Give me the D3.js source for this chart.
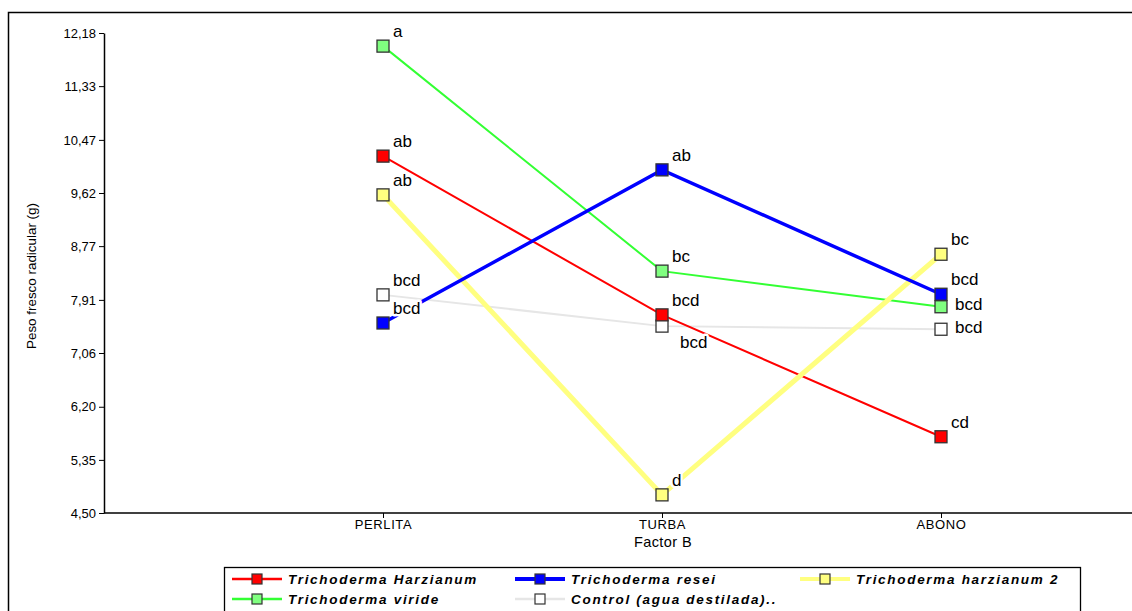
<!DOCTYPE html>
<html><head><meta charset="utf-8">
<script src="https://cdn.jsdelivr.net/npm/d3@7"></script>
<style>body{margin:0;background:#fff}svg{display:block;font-family:Arial,"Liberation Sans",sans-serif}</style>
</head><body><svg id="c" width="1132" height="611"></svg>
<script>
const categories = ["PERLITA","TURBA","ABONO"];
const yTicks = [4.50,5.35,6.20,7.06,7.91,8.77,9.62,10.47,11.33,12.18];
const seriesNames = ["Trichoderma Harzianum","Trichoderma resei","Trichoderma harzianum 2","Trichoderma viride","Control (agua destilada).."];
const harzianum = [10.21, 7.67, 5.72];
const resei = [7.54, 9.99, 8.00];
const harzianum2 = [9.59, 4.79, 8.64];
const viride = [11.97, 8.37, 7.80];
const control = [7.99, 7.49, 7.44];
const lettersHarzianum = ["ab","bcd","cd"];
const lettersResei = ["bcd","ab","bcd"];
const lettersHarzianum2 = ["ab","d","bc"];
const lettersViride = ["a","bc","bcd"];
const lettersControl = ["bcd","bcd","bcd"];

// styles / layout (not data)
const styles = [
  {line:"#ff0000", fill:"#ff0000", w:2},
  {line:"#0000ff", fill:"#0000ff", w:3.5},
  {line:"#ffff80", fill:"#ffff80", w:5},
  {line:"#33ff33", fill:"#80ff80", w:2},
  {line:"#e6e6e6", fill:"#ffffff", w:2}
];
// label offsets [dx,dy] per series per category
const labelOffsets = [
  [[10,-9],[10,-9],[10,-9]],
  [[10,-9],[10,-9],[10,-9]],
  [[10,-9],[10,-9],[10,-9]],
  [[10,-9],[10,-9],[14,3]],
  [[10,-9],[18,22],[14,4]]
];

const series = [harzianum,resei,harzianum2,viride,control];
const letters = [lettersHarzianum,lettersResei,lettersHarzianum2,lettersViride,lettersControl];

const svg = d3.select("#c");
svg.append("path").attr("d","M1140,12.5 H8.5 V620").attr("fill","none").attr("stroke","#000").attr("stroke-width",1.5);

const y = d3.scaleLinear().domain([4.5,12.18]).range([513,33]);
const x = d3.scalePoint().domain(categories).range([383,941]);
const xLeft = 104, xRight = 1132;

// y axis
const ya = svg.append("g").attr("transform",`translate(${xLeft},0)`)
  .call(d3.axisLeft(y).tickValues(yTicks).tickSize(5).tickSizeOuter(0)
    .tickFormat(d=>d3.format(".2f")(d).replace(".",",")));
ya.selectAll("text").attr("font-size",13).attr("fill","#000").attr("font-family","Arial, Liberation Sans, sans-serif");
ya.select(".domain").attr("stroke-width",1.5);

// x axis
const xa = svg.append("g").attr("transform",`translate(0,513)`)
  .call(d3.axisBottom(x).tickSize(5).tickSizeOuter(0));
xa.select(".domain").remove();
xa.selectAll("text").attr("font-size",13).attr("fill","#000").attr("dy","0.6em").attr("letter-spacing",0.6)
  .attr("font-family","Arial, Liberation Sans, sans-serif");
svg.append("line").attr("x1",xLeft).attr("x2",xRight).attr("y1",513).attr("y2",513).attr("stroke","#000").attr("stroke-width",1.5);

svg.append("text").attr("x",663).attr("y",547).attr("text-anchor","middle").attr("font-size",14.5).attr("letter-spacing",0.4).text("Factor B");
svg.append("text").attr("transform","translate(36,276) rotate(-90)").attr("text-anchor","middle")
  .attr("font-size",12).attr("textLength",146).attr("lengthAdjust","spacingAndGlyphs").text("Peso fresco radicular (g)");

const line = d3.line().x((d,i)=>x(categories[i])).y(d=>y(d));
const order = [4,3,0,2,1];
order.forEach(s=>{
  svg.append("path").attr("d",line(series[s])).attr("fill","none")
    .attr("stroke",styles[s].line).attr("stroke-width",styles[s].w);
});
const lg = svg.append("g");
series.forEach((vals,s)=>{
  vals.forEach((v,i)=>{
    const off = labelOffsets[s][i];
    lg.append("text").attr("x",x(categories[i])+off[0]).attr("y",y(v)+off[1])
      .attr("font-size",17).attr("fill","#000").attr("stroke","#fff").attr("stroke-width",5)
      .attr("paint-order","stroke").attr("stroke-linejoin","round").text(letters[s][i]);
  });
});
order.forEach(s=>{
  series[s].forEach((v,i)=>{
    svg.append("rect").attr("x",x(categories[i])-6).attr("y",y(v)-6).attr("width",12).attr("height",12)
      .attr("fill",styles[s].fill).attr("stroke","#333").attr("stroke-width",1.3);
  });
});

// legend
const leg = svg.append("g");
leg.append("rect").attr("x",224.5).attr("y",567.5).attr("width",856).attr("height",60)
  .attr("fill","#fff").attr("stroke","#000").attr("stroke-width",1.3);
const legPos = [[232,579],[515,579],[800,579],[232,599],[515,599]];
seriesNames.forEach((n,s)=>{
  const [lx,ly] = legPos[s];
  leg.append("line").attr("x1",lx).attr("x2",lx+50).attr("y1",ly).attr("y2",ly)
    .attr("stroke",styles[s].line).attr("stroke-width",Math.min(styles[s].w+0.5,4));
  leg.append("rect").attr("x",lx+20).attr("y",ly-5).attr("width",10).attr("height",10)
    .attr("fill",styles[s].fill).attr("stroke","#333").attr("stroke-width",1.2);
  leg.append("text").attr("x",lx+56).attr("y",ly+5).attr("font-size",13.5).attr("font-weight","bold")
    .attr("font-style","italic").attr("letter-spacing",1.7).text(n);
});
</script></body></html>
